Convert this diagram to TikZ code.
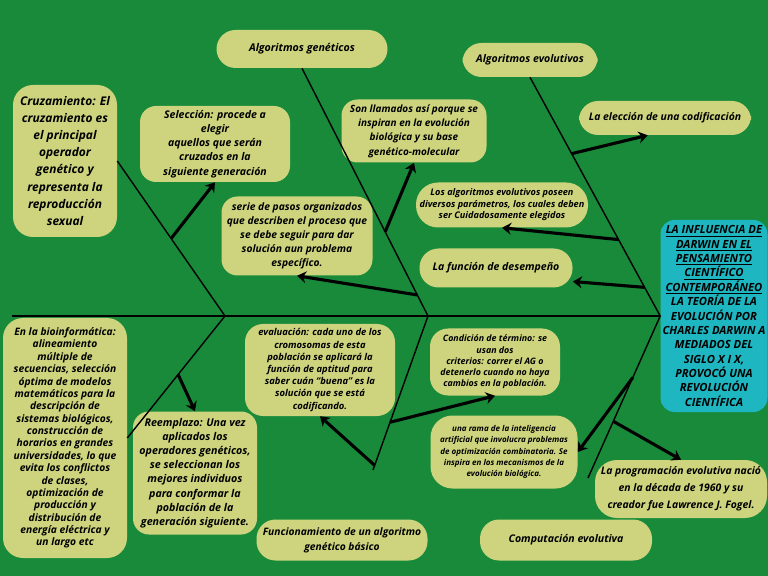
\documentclass[tikz,border=0pt]{standalone}
\usepackage{fontspec}
\setmainfont{Open Sans}
\usetikzlibrary{arrows.meta,positioning}
\definecolor{fondo}{RGB}{24,138,58}
\definecolor{verdeclaro}{RGB}{205,212,125}
\definecolor{cian}{RGB}{30,182,192}
\newdimen\pxu \pxu=0.025cm
\newcommand{\fz}[2]{\fontsize{#1}{#2}\selectfont}

\begin{document}
\begin{tikzpicture}[
  x=0.025cm, y=-0.025cm,
  caja/.style={fill=verdeclaro, rounded corners=16\pxu, align=center, inner sep=0pt,
               font=\bfseries\itshape},
  pill/.style={caja, rounded corners=19\pxu},
  cabeza/.style={caja, fill=cian, rounded corners=14\pxu},
  hueso/.style={draw=black, line width=1pt},
  flecha/.style={draw=black, line width=2.2pt, -{Stealth[length=6.5pt,width=8.5pt]}}
]
\fill[fondo] (0,0) rectangle (768,576);
\useasboundingbox (0,0) rectangle (768,576);

% cajas de arriba
\node[pill, minimum width=171\pxu, minimum height=38\pxu, font=\bfseries\itshape\fz{7.6}{9}] (genet) at (302,49) {Algoritmos genéticos};
\node[pill, minimum width=135\pxu, minimum height=34\pxu, font=\bfseries\itshape\fz{7.5}{9}] (evolu) at (530,60) {Algoritmos evolutivos};
\node[caja, minimum width=104\pxu, minimum height=152\pxu, rounded corners=20\pxu, font=\bfseries\itshape\fz{8.5}{12.1}] (crz) at (65,161)
  {Cruzamiento: El\\cruzamiento es\\el principal\\operador\\genético y\\representa la\\reproducción\\sexual};
\node[caja, minimum width=150\pxu, minimum height=76\pxu, font=\bfseries\itshape\fz{7.5}{10.1}] (sel) at (215,144)
  {Selección: procede a\\elegir\\aquellos que serán\\cruzados en la\\siguiente generación};
\node[caja, minimum width=151\pxu, minimum height=79\pxu, font=\bfseries\itshape\fz{7.3}{10}] (serie) at (297,236)
  {serie de pasos organizados\\que describen el proceso que\\se debe seguir para dar\\solución aun problema\\específico.};
\node[caja, minimum width=145\pxu, minimum height=63\pxu, font=\bfseries\itshape\fz{7.1}{10.2}] (llam) at (414,131)
  {Son llamados así porque se\\inspiran en la evolución\\biológica y su base\\genético-molecular};
\node[pill, minimum width=172\pxu, minimum height=34\pxu, font=\bfseries\itshape\fz{7.4}{9}] (elec) at (665,118) {La elección de una codificación};
\node[pill, minimum width=172\pxu, minimum height=45\pxu, rounded corners=22\pxu, font=\bfseries\itshape\fz{6.5}{8.1}] (param) at (502,205)
  {Los algoritmos evolutivos poseen\\diversos parámetros, los cuales deben\\ser Cuidadosamente elegidos};
\node[pill, minimum width=153\pxu, minimum height=39\pxu, font=\bfseries\itshape\fz{7.5}{9}] (desemp) at (496,268) {La función de desempeño};

% cabeza
\node[cabeza, minimum width=107\pxu, minimum height=192\pxu, font=\bfseries\itshape\fz{8}{10.2}] (head) at (714,316)
  {\underline{LA INFLUENCIA DE}\\\underline{DARWIN EN EL}\\\underline{PENSAMIENTO}\\\underline{CIENTÍFICO}\\\underline{CONTEMPORÁNEO}\\
   LA TEORÍA DE LA\\EVOLUCIÓN POR\\CHARLES DARWIN A\\MEDIADOS DEL\\SIGLO X I X,\\PROVOCÓ UNA\\REVOLUCIÓN\\CIENTÍFICA};

% cajas de abajo
\node[caja, minimum width=124\pxu, minimum height=240\pxu, rounded corners=20\pxu, font=\bfseries\itshape\fz{7.3}{8.8}] (bio) at (65,438)
  {En la bioinformática:\\alineamiento\\múltiple de\\secuencias, selección\\óptima de modelos\\matemáticos para la\\descripción de\\sistemas biológicos,\\construcción de\\horarios en grandes\\universidades, lo que\\evita los conflictos\\de clases,\\optimización de\\producción y\\distribución de\\energía eléctrica y\\un largo etc};
\node[caja, minimum width=124\pxu, minimum height=123\pxu, font=\bfseries\itshape\fz{7.6}{10.1}] (reempl) at (195,473)
  {Reemplazo: Una vez\\aplicados los\\operadores genéticos,\\se seleccionan los\\mejores individuos\\para conformar la\\población de la\\generación siguiente.};
\node[caja, minimum width=150\pxu, minimum height=92\pxu, rounded corners=18\pxu, font=\bfseries\itshape\fz{6.7}{8.7}] (eval) at (320,370)
  {evaluación: cada uno de los\\cromosomas de esta\\población se aplicará la\\función de aptitud para\\saber cuán “buena” es la\\solución que se está\\codificando.};
\node[caja, minimum width=130\pxu, minimum height=67\pxu, rounded corners=18\pxu, font=\bfseries\itshape\fz{6.3}{8}] (term) at (495,362)
  {Condición de término: se\\usan dos\\criterios: correr el AG o\\detenerlo cuando no haya\\cambios en la población.};
\node[caja, minimum width=147\pxu, minimum height=73\pxu, rounded corners=22\pxu, font=\bfseries\itshape\fz{5.7}{7.9}] (rama) at (504,452)
  {una rama de la inteligencia\\artificial que involucra problemas\\de optimización combinatoria. Se\\inspira en los mecanismos de la\\evolución biológica.};
\node[caja, minimum width=172\pxu, minimum height=58\pxu, rounded corners=22\pxu, font=\bfseries\itshape\fz{7.4}{12.1}] (prog) at (681,489)
  {La programación evolutiva nació\\en la década de 1960 y su\\creador fue Lawrence J. Fogel.};
\node[pill, minimum width=171\pxu, minimum height=41\pxu, font=\bfseries\itshape\fz{7.3}{10.7}] (func) at (342,540)
  {Funcionamiento de un algoritmo\\genético básico};
\node[pill, minimum width=172\pxu, minimum height=41\pxu, font=\bfseries\itshape\fz{7.5}{9}] (comp) at (566,540) {Computación evolutiva};

% espina y huesos
\coordinate (cola) at (12,316);
\coordinate (sp1) at (225,316);
\coordinate (sp2) at (428,316);
\coordinate (finm) at (373,470);
\coordinate (find) at (588,478);
\draw[hueso] (cola) -- (head.west);
\draw[hueso] (crz.east) -- coordinate[pos=.5] (a1) (sp1);
\draw[hueso] (genet.south) -- coordinate[pos=.66] (a2) coordinate[pos=.915] (a3) (sp2);
\draw[hueso] (evolu.south) -- coordinate[pos=.32] (a4) coordinate[pos=.68] (a5) coordinate[pos=.88] (a6) (head.west);
\draw[hueso] (sp1) -- coordinate[pos=.48] (b1) (bio.east);
\draw[hueso] (sp2) -- coordinate[pos=.69] (b2) coordinate[pos=.97] (b3) (finm);
\draw[hueso] (head.west) -- coordinate[pos=.38] (b4) coordinate[pos=.65] (b5) (find);

% flechas
\draw[flecha] (a1) -- (sel.south);
\draw[flecha] (a2) -- (llam.south);
\draw[flecha] (a3) -- (serie.south);
\draw[flecha] (a4) -- (elec.225);
\draw[flecha] (a5) -- (param.south);
\draw[flecha] (a6) -- (desemp.-10);
\draw[flecha] (b1) -- (reempl.north);
\draw[flecha] (b2) -- (term.south);
\draw[flecha] (b3) -- (eval.south);
\draw[flecha] (b4) -- (rama.east);
\draw[flecha] (b5) -- (prog.north);
\end{tikzpicture}
\end{document}
